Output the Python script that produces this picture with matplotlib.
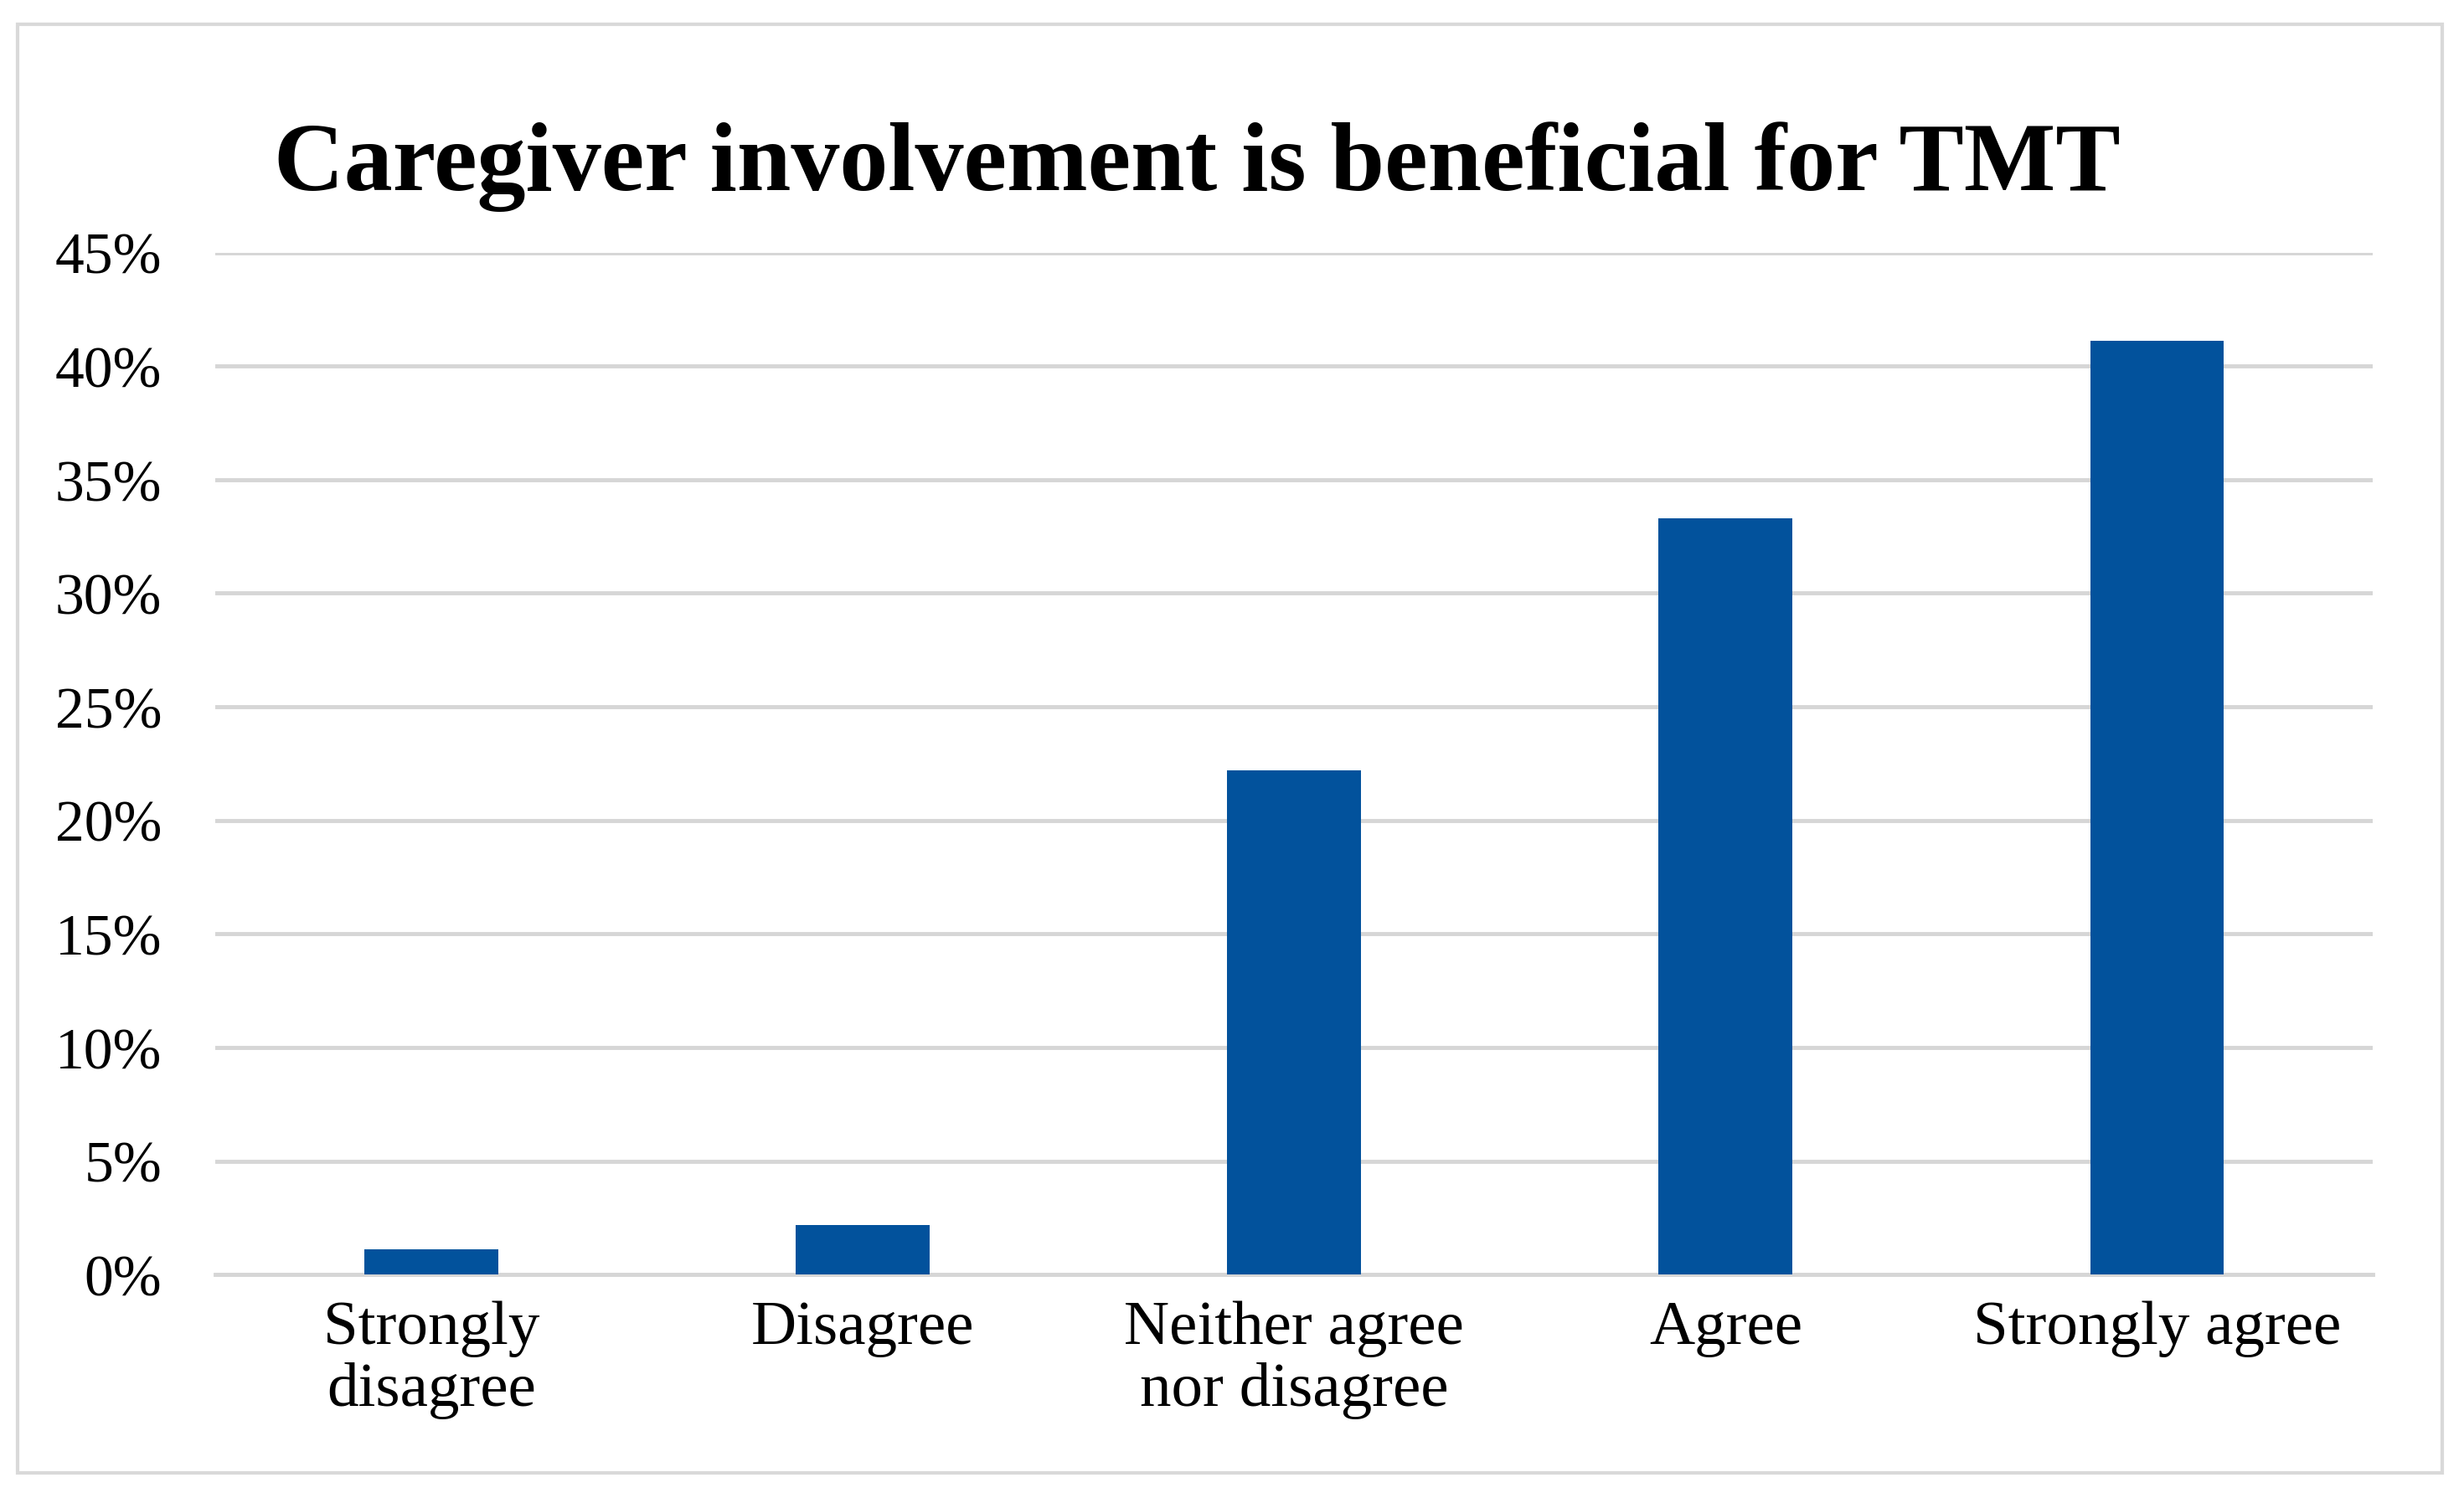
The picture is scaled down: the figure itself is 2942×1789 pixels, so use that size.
import matplotlib
matplotlib.use("Agg")
import matplotlib.pyplot as plt
from matplotlib.patches import Rectangle
import numpy as np

# survey answers (percent of respondents)
categories = ["Strongly\ndisagree", "Disagree", "Neither agree\nnor disagree", "Agree", "Strongly agree"]
values = [1.1, 2.2, 22.2, 33.3, 41.1]
yticks = [0, 5, 10, 15, 20, 25, 30, 35, 40, 45]
ytick_labels = [str(t) + "%" for t in yticks]
title = "Caregiver involvement is beneficial for TMT"

plt.rcParams['font.family'] = ['Liberation Serif', 'DejaVu Serif']

fig = plt.figure(figsize=(29.42, 17.90), dpi=100)
ax = fig.add_axes([0.0874, 0.149, 0.963 - 0.0874, 0.831 - 0.149])

x = np.arange(len(categories))
ax.bar(x, values, width=0.31, color='#02529C', zorder=3)

ax.set_xlim(-0.5, len(categories) - 0.5)
ax.set_ylim(0, 45)
ax.set_yticks(yticks)
ax.set_yticklabels(ytick_labels)
ax.set_xticks(x)
ax.set_xticklabels(categories, linespacing=1.1)

ax.grid(axis='y', color='#D6D6D6', linewidth=3.5, zorder=0)
ax.set_axisbelow(True)
for s in ['top', 'right', 'left']:
    ax.spines[s].set_visible(False)
ax.spines['bottom'].set_color('#D6D6D6')
ax.spines['bottom'].set_linewidth(3.5)
ax.tick_params(axis='both', length=0, colors='black')
ax.tick_params(axis='y', pad=46, labelsize=50)
ax.tick_params(axis='x', pad=22, labelsize=54)

fig.text(0.486, 0.889, title, ha='center', va='center', fontsize=83.5, fontweight='bold')

# outer frame
fig.patches.append(Rectangle((21 / 2942, 1 - 1760 / 1790), (2916 - 21) / 2942, (1760 - 30) / 1790,
                             transform=fig.transFigure, fill=False, edgecolor='#D9D9D9', linewidth=3))

fig.savefig("out.png", dpi=100, facecolor='white')
